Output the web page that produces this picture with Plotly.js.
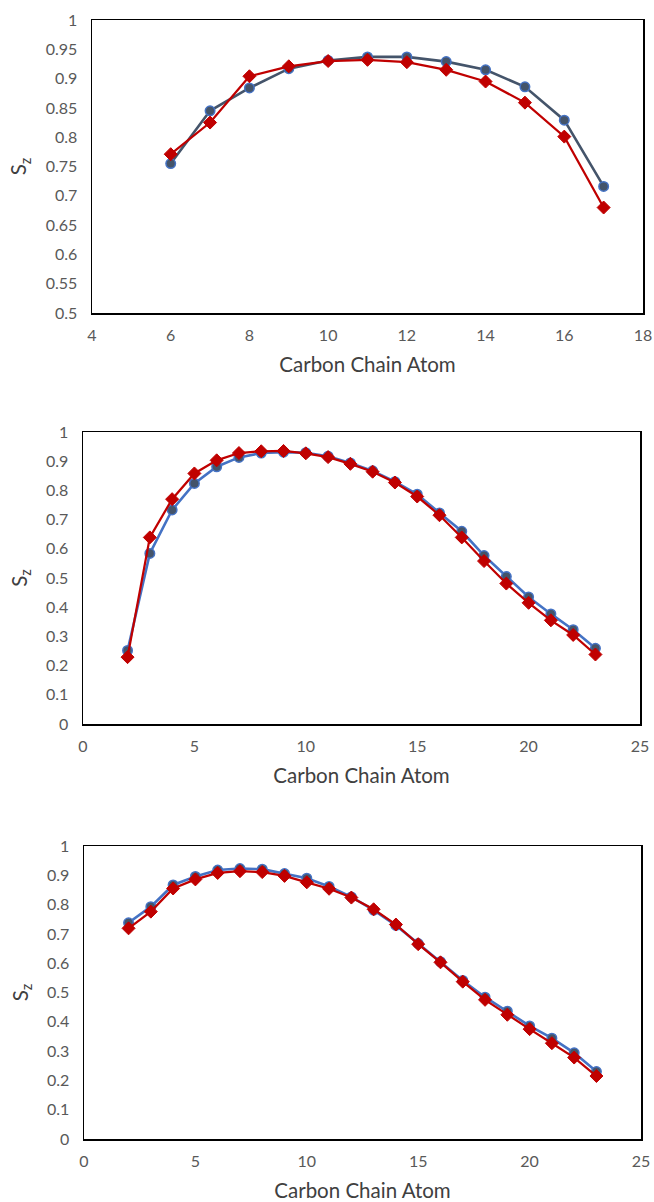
<!DOCTYPE html>
<html>
<head>
<meta charset="utf-8">
<script src="https://cdn.plot.ly/plotly-3.0.1.min.js"></script>
<style>html,body{margin:0;padding:0;background:#fff;}#chart{width:654px;height:1202px;}</style>
</head>
<body>
<div id="chart"></div>
<script>
// ---- data ----
var atoms1 = [6, 7, 8, 9, 10, 11, 12, 13, 14, 15, 16, 17];
var blue1 = [0.755, 0.845, 0.884, 0.917, 0.931, 0.937, 0.937, 0.929, 0.915, 0.886, 0.829, 0.716];
var red1  = [0.771, 0.825, 0.904, 0.921, 0.930, 0.932, 0.928, 0.915, 0.895, 0.859, 0.801, 0.680];

var atoms2 = [2, 3, 4, 5, 6, 7, 8, 9, 10, 11, 12, 13, 14, 15, 16, 17, 18, 19, 20, 21, 22, 23];
var blue2 = [0.252, 0.584, 0.733, 0.824, 0.881, 0.913, 0.928, 0.931, 0.929, 0.917, 0.894, 0.867, 0.830, 0.787, 0.723, 0.660, 0.577, 0.505, 0.435, 0.377, 0.323, 0.259];
var red2  = [0.229, 0.639, 0.770, 0.858, 0.903, 0.928, 0.934, 0.935, 0.927, 0.914, 0.891, 0.864, 0.827, 0.779, 0.715, 0.639, 0.558, 0.481, 0.415, 0.355, 0.305, 0.238];

var atoms3 = [2, 3, 4, 5, 6, 7, 8, 9, 10, 11, 12, 13, 14, 15, 16, 17, 18, 19, 20, 21, 22, 23];
var blue3 = [0.738, 0.793, 0.867, 0.896, 0.918, 0.923, 0.921, 0.906, 0.890, 0.862, 0.826, 0.781, 0.729, 0.667, 0.605, 0.541, 0.484, 0.436, 0.386, 0.344, 0.294, 0.230];
var red3  = [0.719, 0.776, 0.855, 0.886, 0.908, 0.914, 0.911, 0.898, 0.876, 0.854, 0.824, 0.784, 0.732, 0.665, 0.603, 0.537, 0.475, 0.424, 0.375, 0.327, 0.278, 0.215];

var xTitle = "Carbon Chain Atom";
var yTitle = "S<sub>z</sub>";

// ---- styles ----
var SLATE = "#44546A", BLUE = "#4472C4", RED = "#C00000";
function blueTrace(x, y, xa, ya, lineColor) {
  return {x: x, y: y, xaxis: xa, yaxis: ya, type: "scatter", mode: "lines+markers", name: "S_z (blue)",
    line: {color: lineColor, width: 2.6},
    marker: {symbol: "circle", size: 9.5, color: SLATE, line: {color: BLUE, width: 1.5}},
    showlegend: false, hoverinfo: "x+y"};
}
function redTrace(x, y, xa, ya) {
  return {x: x, y: y, xaxis: xa, yaxis: ya, type: "scatter", mode: "lines+markers", name: "S_z (red)",
    line: {color: RED, width: 2.25},
    marker: {symbol: "diamond", size: 10, color: RED, line: {color: RED, width: 1}},
    showlegend: false, hoverinfo: "x+y"};
}

var data = [
  blueTrace(atoms1, blue1, "x", "y", SLATE), redTrace(atoms1, red1, "x", "y"),
  blueTrace(atoms2, blue2, "x2", "y2", BLUE), redTrace(atoms2, red2, "x2", "y2"),
  blueTrace(atoms3, blue3, "x3", "y3", BLUE), redTrace(atoms3, red3, "x3", "y3")
];

var FONT = "Lato, 'Open Sans', sans-serif";
var tickFont = {family: FONT, size: 16, color: "#595959"};
var titleFont = {family: FONT, size: 20.5, color: "#404040"};
var H = 1202, W = 654;

function xAxis(range, dtick, left, right, anchor) {
  return {domain: [left / W, right / W], range: range, dtick: dtick, tick0: 0, anchor: anchor,
    showgrid: false, zeroline: false, showline: true, mirror: true, linecolor: "#000", linewidth: 1.5,
    ticks: "", tickfont: tickFont, ticklabelstandoff: 7,
    title: {text: xTitle, font: titleFont, standoff: 15}};
}
function yAxis(range, dtick, top, bottom, anchor) {
  return {domain: [1 - bottom / H, 1 - top / H], range: range, dtick: dtick, tick0: 0, anchor: anchor,
    showgrid: false, zeroline: false, showline: true, mirror: true, linecolor: "#000", linewidth: 1.5,
    ticks: "", tickfont: tickFont, ticklabelstandoff: 10,
    title: {text: yTitle, font: titleFont, standoff: 13}};
}

var layout = {
  width: W, height: H,
  margin: {l: 0, r: 0, t: 0, b: 0},
  paper_bgcolor: "#fff", plot_bgcolor: "#fff",
  font: {family: FONT},
  xaxis: xAxis([4, 18], 2, 92, 643, "y"),
  yaxis: yAxis([0.5, 1], 0.05, 20, 313, "x"),
  xaxis2: xAxis([0, 25], 5, 83, 640, "y2"),
  yaxis2: yAxis([0, 1], 0.1, 432, 724, "x2"),
  xaxis3: xAxis([0, 25], 5, 84, 641, "y3"),
  yaxis3: yAxis([0, 1], 0.1, 846, 1139, "x3")
};

Plotly.newPlot("chart", data, layout, {displayModeBar: false, staticPlot: true});
</script>
</body>
</html>
